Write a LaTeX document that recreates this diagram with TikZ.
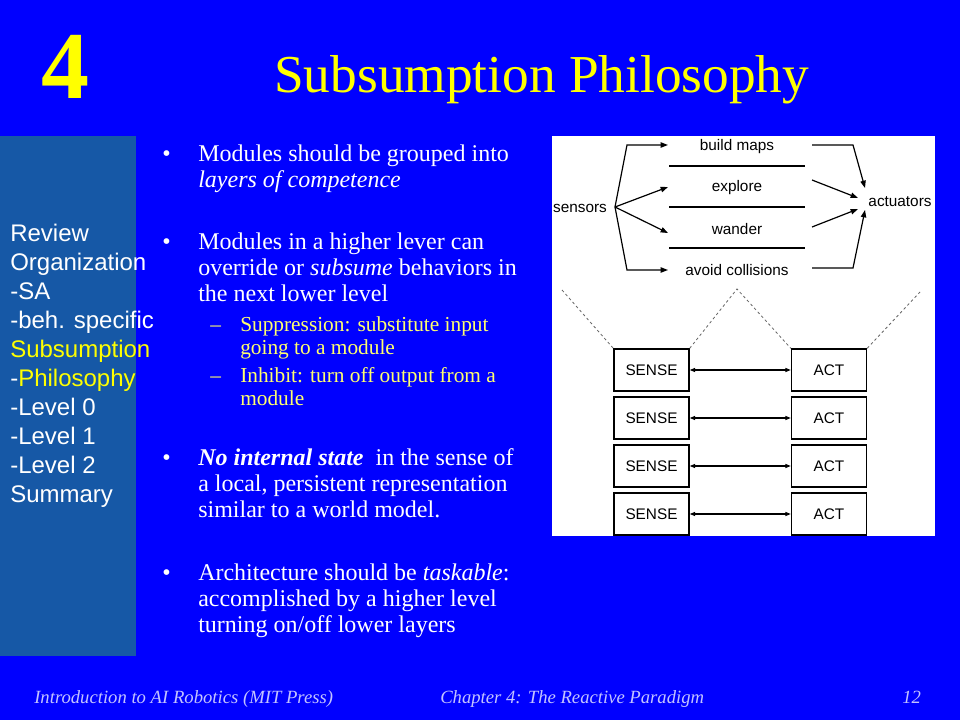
\documentclass[tikz,border=0pt]{standalone}
\usepackage{fontspec}
\setmainfont{Liberation Serif}
\setsansfont{Liberation Sans}
\usetikzlibrary{arrows.meta,calc}
\definecolor{bg}{RGB}{0,0,255}
\definecolor{panel}{RGB}{22,88,166}
\definecolor{foot}{RGB}{195,195,255}
\definecolor{subyel}{RGB}{255,255,110}
\definecolor{titleyel}{RGB}{255,255,0}
\newcommand{\linestack}[1]{\begin{tabular}[t]{@{}l@{}}#1\end{tabular}}
\begin{document}
\begin{tikzpicture}[x=0.75pt,y=-0.75pt,
  bodytext/.style={anchor=base west,inner sep=0pt,text=white,font=\fontsize{18}{19.5}\selectfont},
  subtext/.style={anchor=base west,inner sep=0pt,text=subyel,font=\fontsize{16}{17.3}\selectfont},
  navtext/.style={anchor=base west,inner sep=0pt,font=\sffamily\fontsize{18}{21.7}\selectfont},
  foottext/.style={anchor=base west,inner sep=0pt,text=foot,font=\itshape\fontsize{14}{16}\selectfont},
  dlabel/.style={inner sep=1pt,font=\sffamily\fontsize{11.5}{13}\selectfont},
  modbox/.style={draw=black,line width=1.1pt,minimum width=56.25pt,minimum height=31.5pt,inner sep=0pt,font=\sffamily\fontsize{11.5}{13}\selectfont},
  conn/.style={line width=0.9pt,-{Triangle[length=5.5pt,width=4pt]}},
  dconn/.style={line width=0.8pt,{Triangle[length=4pt,width=3pt]}-{Triangle[length=4pt,width=3pt]}},
  dashline/.style={line width=0.6pt,dash pattern=on 2pt off 2pt,black!60}
]
\useasboundingbox (0,0) rectangle (960,720);
\fill[bg] (0,0) rectangle (960,720);
% left panel
\fill[panel] (0,136) rectangle (136,656);
% title
\node[anchor=base west,inner sep=0pt,text=titleyel,font=\bfseries\fontsize{72}{72}\selectfont] (num) at (41,99) {4};
\node[anchor=base west,inner sep=0pt,text=titleyel,font=\fontsize{40}{40}\selectfont] (title) at (274,93) {Subsumption Philosophy};
% navigation
\node[navtext] (nav) at (10,242) {\linestack{\textcolor{white}{Review}\\ \textcolor{white}{Organization}\\ \textcolor{white}{-SA}\\ \textcolor{white}{-beh. specific}\\ \textcolor{titleyel}{Subsumption}\\ \textcolor{white}{-}\textcolor{titleyel}{Philosophy}\\ \textcolor{white}{-Level 0}\\ \textcolor{white}{-Level 1}\\ \textcolor{white}{-Level 2}\\ \textcolor{white}{Summary}}};
% bullets
\node[bodytext] (b1dot) at (162,162) {•};
\node[bodytext] (b1) at (198,162) {\linestack{Modules should be grouped into\\ \textit{layers of competence}}};
\node[bodytext] (b2dot) at (162,250) {•};
\node[bodytext] (b2) at (198,250) {\linestack{Modules in a higher lever can\\ override or \textit{subsume} behaviors in\\ the next lower level}};
\node[subtext] (s1dash) at (210,331) {–};
\node[subtext] (s1) at (240,331) {\linestack{Suppression: substitute input\\ going to a module}};
\node[subtext] (s2dash) at (210,382) {–};
\node[subtext] (s2) at (240,382) {\linestack{Inhibit: turn off output from a\\ module}};
\node[bodytext] (b3dot) at (162,465) {•};
\node[bodytext] (b3) at (198,465) {\linestack{\textbf{\textit{No internal state}}\ \ in the sense of\\ a local, persistent representation\\ similar to a world model.}};
\node[bodytext] (b4dot) at (162,580) {•};
\node[bodytext] (b4) at (198,580) {\linestack{Architecture should be \textit{taskable}:\\ accomplished by a higher level\\ turning on/off lower layers}};
% footer
\node[foottext] (f1) at (34,703) {Introduction to AI Robotics (MIT Press)};
\node[foottext] (f2) at (440,703) {Chapter 4: The Reactive Paradigm};
\node[foottext] (f3) at (902,703) {12};
% diagram panel
\fill[white] (552,136) rectangle (935,536);
% top diagram
\node[dlabel] (sensors) at (580,208) {sensors};
\node[dlabel] (actuators) at (900,202) {actuators};
\node[dlabel] (bm) at (737,147) {build maps};
\node[dlabel] (ex) at (737,188) {explore};
\node[dlabel] (wa) at (737,229) {wander};
\node[dlabel] (av) at (737,270) {avoid collisions};
\draw[line width=1pt] (669,166) -- (805,166);
\draw[line width=1pt] (669,207) -- (805,207);
\draw[line width=1pt] (669,248) -- (805,248);
\coordinate (fan) at (615,207);
\coordinate (bmin) at (668,145);
\coordinate (exin) at (668,187);
\coordinate (wain) at (668,233);
\coordinate (avin) at (668,270);
\coordinate (bmout) at (812,145);
\coordinate (exout) at (812,180);
\coordinate (waout) at (812,227);
\coordinate (avout) at (812,268);
\coordinate (act1) at (865,188);
\coordinate (act2) at (858,198);
\coordinate (act3) at (858,209);
\coordinate (act4) at (865,210);
\draw[conn] (fan) -- (627,145) -- (bmin);
\draw[conn] (fan) -- (exin);
\draw[conn] (fan) -- (wain);
\draw[conn] (fan) -- (627,270) -- (avin);
\draw[conn] (bmout) -- (853,145) -- (act1);
\draw[conn] (exout) -- (act2);
\draw[conn] (waout) -- (act3);
\draw[conn] (avout) -- (853,268) -- (act4);
% bottom diagram
\foreach \i/\y in {1/370,2/418,3/466,4/514}{
  \node[modbox] (sense\i) at (651.5,\y) {SENSE};
  \node[modbox] (act\i box) at (829,\y) {ACT};
  \draw[dconn] (sense\i.east) -- (act\i box.west);
}
\coordinate (dl1) at (562,290);
\coordinate (dl2) at (737,289);
\coordinate (dl3) at (920,292);
\draw[dashline] (dl1) -- (sense1.north west);
\draw[dashline] (sense1.north east) -- (dl2) -- (act1box.north west);
\draw[dashline] (act1box.north east) -- (dl3);
\end{tikzpicture}
\end{document}
